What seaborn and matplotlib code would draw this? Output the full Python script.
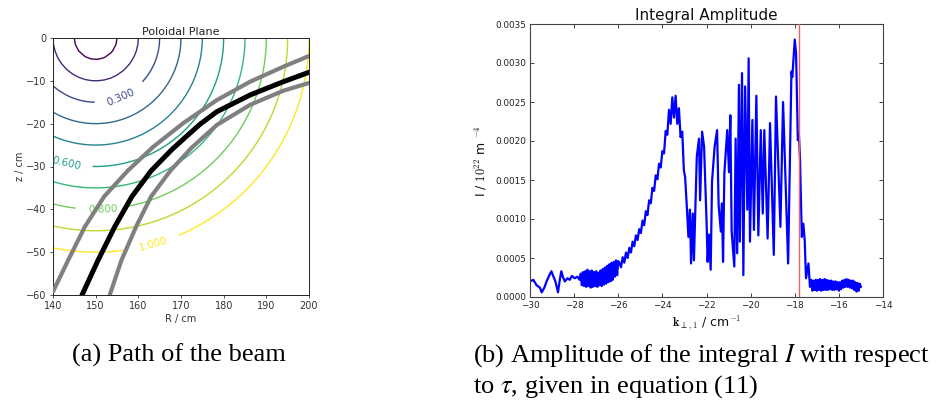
import numpy as np
import pandas as pd
import matplotlib
matplotlib.use("Agg")
import matplotlib.pyplot as plt
from matplotlib.ticker import FormatStrFormatter, MultipleLocator
import seaborn as sns

# ---------------- data: (a) poloidal plane ----------------
axis_R = 150.0          # centre of the flux surfaces (cm)
axis_z = 0.0
edge_radius = 50.0      # radius of the rho = 1 surface (cm)
rho_levels = [0.1, 0.2, 0.3, 0.4, 0.5, 0.6, 0.7, 0.8, 0.9, 1.0]
label_R = [155.8, 143.1, 151.6, 163.4]
label_z = [-13.6, -29.1, -39.75, -47.5]
R_grid = np.linspace(140, 200, 41)
z_grid = np.linspace(-60, 0, 41)

beam_R = [146.8, 150.5, 154.5, 158.5, 163.0, 167.8, 171.0, 174.5, 178.4, 186.2, 194.0, 200.0]
beam_z = [-60.0, -52.0, -44.0, -37.0, -31.0, -26.1, -23.2, -20.1, -17.2, -13.3, -10.2, -8.0]
upper_R = [140.0, 143.5, 147.5, 152.0, 157.5, 163.5, 170.5, 178.4, 186.2, 194.0, 200.0]
upper_z = [-59.2, -52.0, -44.0, -37.0, -31.0, -25.4, -19.9, -14.5, -10.2, -6.7, -4.2]
lower_R = [153.3, 156.0, 159.5, 163.0, 167.5, 172.5, 178.4, 186.2, 194.0, 200.0]
lower_z = [-60.0, -52.0, -44.0, -37.0, -31.0, -25.6, -20.3, -15.6, -12.3, -10.5]

# ---------------- data: (b) integral amplitude (units of 1e-3) ----------------
k_a = [-30.0, -29.85, -29.7, -29.55, -29.47, -29.35, -29.25, -29.12, -29.03, -28.95, -28.85,
       -28.73, -28.65, -28.58, -28.5, -28.42, -28.3, -28.2, -28.1, -27.97, -27.85, -27.75]
amp_a = [0.20, 0.22, 0.15, 0.12, 0.06, 0.12, 0.20, 0.28, 0.33, 0.27, 0.20,
         0.06, 0.22, 0.33, 0.25, 0.20, 0.24, 0.22, 0.27, 0.24, 0.26, 0.22]
k_b = [-27.70, -27.65, -27.60, -27.55, -27.50, -27.45, -27.40, -27.35, -27.30, -27.25, -27.20,
       -27.15, -27.10, -27.05, -27.00, -26.95, -26.90, -26.85, -26.80, -26.75, -26.70, -26.65,
       -26.60, -26.55, -26.50, -26.45, -26.40, -26.35, -26.30, -26.25, -26.20, -26.15, -26.10,
       -26.05, -26.00]
amp_b = [0.30, 0.15, 0.32, 0.14, 0.33, 0.13, 0.35, 0.14, 0.33, 0.12, 0.34,
         0.13, 0.32, 0.14, 0.33, 0.13, 0.31, 0.15, 0.34, 0.14, 0.36, 0.16,
         0.38, 0.17, 0.40, 0.19, 0.42, 0.20, 0.44, 0.22, 0.45, 0.26, 0.47,
         0.28, 0.46]
k_c = [-25.95, -25.875, -25.80, -25.725, -25.65, -25.575, -25.50, -25.425, -25.35, -25.275,
       -25.20, -25.125, -25.05, -24.975, -24.90, -24.825, -24.75, -24.675, -24.60, -24.525,
       -24.45, -24.375, -24.30, -24.225, -24.15, -24.075, -24.00, -23.925, -23.85, -23.775,
       -23.70, -23.625, -23.55, -23.475, -23.40, -23.325, -23.25, -23.175, -23.10, -23.025]
amp_c = [0.44, 0.38, 0.51, 0.44, 0.57, 0.50, 0.63, 0.57, 0.71, 0.65,
         0.79, 0.73, 0.87, 0.82, 0.98, 0.92, 1.10, 1.05, 1.24, 1.20,
         1.40, 1.36, 1.56, 1.51, 1.71, 1.66, 1.87, 1.84, 2.13, 2.08,
         2.40, 2.22, 2.56, 2.30, 2.58, 2.22, 2.42, 2.05, 2.12, 1.62]
k_d = [-22.97, -22.90, -22.82, -22.75, -22.70, -22.62, -22.57, -22.44, -22.34, -22.29, -22.20,
       -22.11, -21.99, -21.95, -21.89, -21.81, -21.75, -21.63, -21.52, -21.45, -21.35, -21.30,
       -21.25, -21.19, -21.06, -20.98, -20.92, -20.86, -20.74, -20.68, -20.61, -20.53, -20.49,
       -20.39, -20.33, -20.25, -20.15, -20.09, -20.03, -19.92, -19.85, -19.74, -19.65, -19.54,
       -19.45, -19.38, -19.23, -19.12, -18.95, -18.85, -18.65, -18.53, -18.30, -18.15, -18.11,
       -18.00, -17.94, -17.86, -17.81, -17.76, -17.68, -17.61, -17.55, -17.49, -17.38, -17.31]
amp_d = [1.54, 1.20, 0.77, 1.12, 0.43, 1.07, 0.47, 1.80, 2.03, 1.24, 2.12,
         1.93, 0.90, 0.45, 0.80, 0.35, 1.48, 1.93, 2.14, 1.18, 0.84, 1.20,
         0.45, 1.59, 2.14, 1.60, 2.33, 0.84, 0.39, 2.03, 0.56, 2.72, 0.71,
         2.87, 0.28, 2.70, 1.12, 3.06, 0.71, 2.27, 0.86, 2.58, 0.79, 2.14,
         1.07, 2.14, 0.75, 2.23, 0.54, 2.57, 0.90, 2.50, 0.43, 2.89, 2.82,
         3.30, 3.12, 2.01, 2.08, 1.76, 0.77, 0.94, 0.73, 0.24, 0.43, 0.13]
k_e = [-17.25, -17.20, -17.15, -17.10, -17.05, -17.00, -16.95, -16.90, -16.85, -16.80, -16.75,
       -16.70, -16.65, -16.60, -16.55, -16.50, -16.45, -16.40, -16.35, -16.30, -16.25, -16.20,
       -16.15, -16.10, -16.05, -16.00, -15.95, -15.90, -15.85, -15.80, -15.75, -15.70, -15.65,
       -15.60, -15.55, -15.50, -15.45, -15.40, -15.35, -15.30, -15.25, -15.20, -15.15, -15.10,
       -15.05, -15.00]
amp_e = [0.22, 0.08, 0.21, 0.09, 0.22, 0.08, 0.22, 0.09, 0.23, 0.08, 0.22,
         0.09, 0.23, 0.09, 0.22, 0.09, 0.21, 0.10, 0.21, 0.09, 0.20, 0.09,
         0.20, 0.10, 0.19, 0.08, 0.19, 0.10, 0.21, 0.12, 0.22, 0.13, 0.23,
         0.13, 0.22, 0.12, 0.21, 0.11, 0.21, 0.09, 0.19, 0.07, 0.18, 0.08,
         0.17, 0.13]
k_marker = -17.79

x_ticks = [-30, -28, -26, -24, -22, -20, -18, -16, -14]
y_ticks = [0.0, 0.0005, 0.0010, 0.0015, 0.0020, 0.0025, 0.0030, 0.0035]

# ---------------- figure ----------------
sns.set_theme(style="ticks")
plt.rcParams['font.family'] = ['DejaVu Sans']

W, H = 939, 405
fig = plt.figure(figsize=(W / 100, H / 100), dpi=100)

def box(l, t, r, b):
    return [l / W, 1 - b / H, (r - l) / W, (b - t) / H]

# ---- (a) ----
axa = fig.add_axes(box(53, 38, 309, 295))
RR, ZZ = np.meshgrid(R_grid, z_grid)
rho = np.sqrt((RR - axis_R) ** 2 + (ZZ - axis_z) ** 2) / edge_radius
cs = axa.contour(RR, ZZ, rho, levels=rho_levels, cmap='viridis', linewidths=1.0)
axa.clabel(cs, inline=True, inline_spacing=12, fmt='%1.3f',
           fontsize=7.5, manual=list(zip(label_R, label_z)))

beams = pd.DataFrame({
    'R': upper_R + lower_R + beam_R,
    'z': upper_z + lower_z + beam_z,
    'ray': ['upper'] * len(upper_R) + ['lower'] * len(lower_R) + ['centre'] * len(beam_R),
})
for name, col, lw in [('upper', '#808080', 3.0), ('lower', '#808080', 3.0), ('centre', 'black', 3.6)]:
    sub = beams[beams['ray'] == name]
    sns.lineplot(data=sub, x='R', y='z', sort=False, estimator=None, color=col,
                 linewidth=lw, ax=axa, zorder=5)
axa.set_xlim(140, 200)
axa.set_ylim(-60, 0)
axa.xaxis.set_major_locator(MultipleLocator(10))
axa.yaxis.set_major_locator(MultipleLocator(10))
axa.tick_params(direction='out', length=2.5, width=0.6, labelsize=7, pad=2,
                colors='#333333')
for s in axa.spines.values():
    s.set_visible(True)
    s.set_linewidth(0.7)
    s.set_color('#222222')
axa.set_xlabel('R / cm', fontsize=7, color='#333333', labelpad=2)
axa.set_ylabel('z / cm', fontsize=7, color='#333333', labelpad=1)
axa.set_title('Poloidal Plane', fontsize=8, color='#222222', pad=2)

# ---- (b) ----
axb = fig.add_axes(box(530, 24, 883, 297))
amp = pd.DataFrame({
    'k': k_a + k_b + k_c + k_d + k_e,
    'I': [v * 1e-3 for v in amp_a + amp_b + amp_c + amp_d + amp_e],
})
sns.lineplot(data=amp, x='k', y='I', sort=False, estimator=None, color='#0000ff',
             linewidth=1.6, ax=axb)
axb.axvline(k_marker, color='#f06060', linewidth=1.0, zorder=5)
axb.set_xlim(-30, -14)
axb.set_ylim(0, 0.0035)
axb.set_xticks(x_ticks)
axb.set_yticks(y_ticks)
axb.yaxis.set_major_formatter(FormatStrFormatter('%.4f'))
axb.tick_params(direction='in', top=True, right=True, length=3, width=0.6,
                labelsize=6.4, pad=3, colors='#222222')
for s in axb.spines.values():
    s.set_visible(True)
    s.set_linewidth(0.8)
    s.set_color('#444444')
axb.set_xlabel(r'$\mathbf{k}_{\perp,1}$ / cm$^{-1}$', fontsize=9, math_fontfamily='cm',
               labelpad=2, color='#111111')
axb.set_ylabel(r'I / $10^{22}$ m $^{-4}$', fontsize=9, math_fontfamily='cm',
               labelpad=4, color='#111111')
axb.set_title('Integral Amplitude', fontsize=11, color='#111111', pad=3)

# ---- captions ----
cap = dict(fontsize=19, family='Liberation Serif', math_fontfamily='stix',
           va='baseline', ha='left', color='black')
fig.text(72 / W, 1 - 362 / H, '(a) Path of the beam', **cap)
fig.text(473 / W, 1 - 362 / H, '(b) Amplitude of the integral $I$ with respect', **cap)
fig.text(473 / W, 1 - 393 / H, r'to $\tau$, given in equation (11)', **cap)

fig.savefig('out.png', dpi=100)
